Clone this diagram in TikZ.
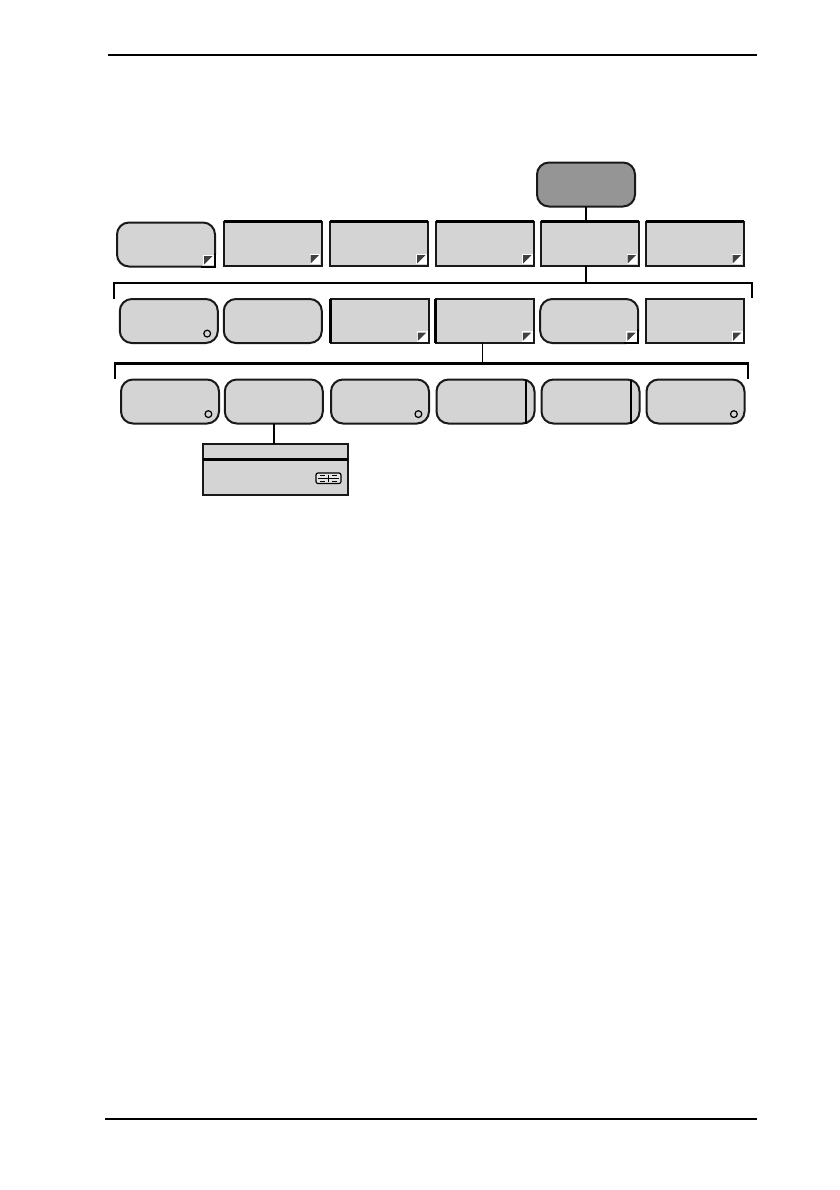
\documentclass[tikz,border=0pt]{standalone}
\definecolor{keygray}{HTML}{D4D4D4}
\definecolor{topgray}{HTML}{959595}
\tikzset{
  key/.style={draw=black!90, line width=1pt, fill=keygray, minimum width=49pt,
    minimum height=22pt, inner sep=0pt, outer sep=0pt},
  softkey/.style={key, rounded corners=6pt},
  menukey/.style={key},
  topkey/.style={softkey, fill=topgray},
  panel/.style={key, minimum width=72.5pt, minimum height=25.5pt},
  link/.style={line width=0.8pt},
}
\begin{document}
\begin{tikzpicture}[x=0.5pt,y=-0.5pt]
	\fill[white] (0,0) rectangle (840,1190);
	\useasboundingbox (0,0) rectangle (840,1190);
	\draw[line width=0.75pt] (108,55) -- (757,55);
	\draw[line width=0.75pt] (105,1119) -- (757,1119);
	% top key and first row
	\node (Top) at (586,184.5) [topkey] {};
	\node (Ma) at (166,244.5) [softkey] {};
	\node (Mb) at (272.5,243.5) [menukey] {};
	\node (Mc) at (379,243.5) [menukey] {};
	\node (Md) at (485,243.5) [menukey] {};
	\node (Me) at (589.5,243.5) [menukey] {};
	\node (Mf) at (694.5,243.5) [menukey] {};
	% second row
	\node (Sa) at (168.8,321) [softkey] {};
	\node (Sb) at (272.8,321) [softkey] {};
	\node (Sc) at (379.7,321) [menukey] {};
	\node (Sd) at (484.7,321) [menukey] {};
	\node (Se) at (589.2,321) [softkey] {};
	\node (Sf) at (694.8,321) [menukey] {};
	% third row
	\node (Ta) at (170,401.5) [softkey] {};
	\node (Tb) at (273.8,401.5) [softkey] {};
	\node (Tc) at (380,401.5) [softkey] {};
	\node (Td) at (485.5,401.5) [softkey] {};
	\node (Te) at (590.5,401.5) [softkey] {};
	\node (Tf) at (695.5,401.5) [softkey] {};
	\node (Pn) at (275,469) [panel] {};
	% heavy edges
	\foreach \k in {Mb,Mc,Md,Me,Mf}
		\draw[line width=1.6pt] (\k.north west) -- (\k.north east);
	\foreach \k in {Sc,Sd}
		\draw[line width=1.6pt] (\k.north west) -- (\k.south west);
	\foreach \k in {Ma,Se}
		\filldraw[fill=keygray, line width=1pt] ([yshift=7pt]\k.south east) |- ([xshift=-7pt]\k.south east);
	% corner marks
	\foreach \k in {Ma,Mb,Mc,Md,Me,Mf,Sc,Sd,Se,Sf} {
		\fill[white] ([shift={(-0.6pt,0.6pt)}]\k.south east) rectangle ([shift={(-6pt,5.8pt)}]\k.south east);
		\fill[black!75] ([shift={(-5.4pt,5.2pt)}]\k.south east) -- ([shift={(-1.2pt,5.2pt)}]\k.south east)
			-- ([shift={(-5.4pt,1.1pt)}]\k.south east) -- cycle;
	}
	\foreach \k in {Sa,Ta,Tc,Tf}
		\draw[line width=0.6pt] ([shift={(-5.3pt,4.7pt)}]\k.south east) circle[radius=1.7pt];
	\foreach \k in {Td,Te}
		\draw[line width=0.8pt] ([xshift=-4.4pt]\k.north east) -- ([xshift=-4.4pt]\k.south east);
	% connectors
	\coordinate (Jm) at (586,283);
	\coordinate (Bl1) at (114,299);
	\coordinate (Br1) at (752,298);
	\draw[link] (Top) -- (Top |- Me.north);
	\draw[line width=1.3pt] (Me.south -| Top) -- (Jm);
	\draw[link] (Bl1) |- (Jm) -| (Br1);
	\coordinate (Js) at (482.5,363);
	\coordinate (Bl2) at (115,379);
	\coordinate (Br2) at (748,379);
	\draw[link] (Sd.south -| Js) -- (Js);
	\draw[link] (Bl2) |- (Js) -| (Br2);
	\draw[line width=1.5pt] (Bl2 |- Js) -- (Br2 |- Js);
	\draw[link] (Tb.south) -- (Tb.south |- Pn.north);
	\draw[line width=1.4pt] ([yshift=-8pt]Pn.north west) -- ([yshift=-8pt]Pn.north east);
	% scroll icon
	\draw[line width=0.6pt, fill=keygray!60, rounded corners=1pt] (316,473) rectangle (341,483.5);
	\draw[line width=0.5pt] (318,478.2) -- (339,478.2) (328.5,474.5) -- (328.5,482);
	\draw[line width=0.5pt] (320,475.5) -- (325,475.5) (332,475.5) -- (337,475.5)
		(320,481) -- (325,481) (332,481) -- (337,481);
\end{tikzpicture}
\end{document}
